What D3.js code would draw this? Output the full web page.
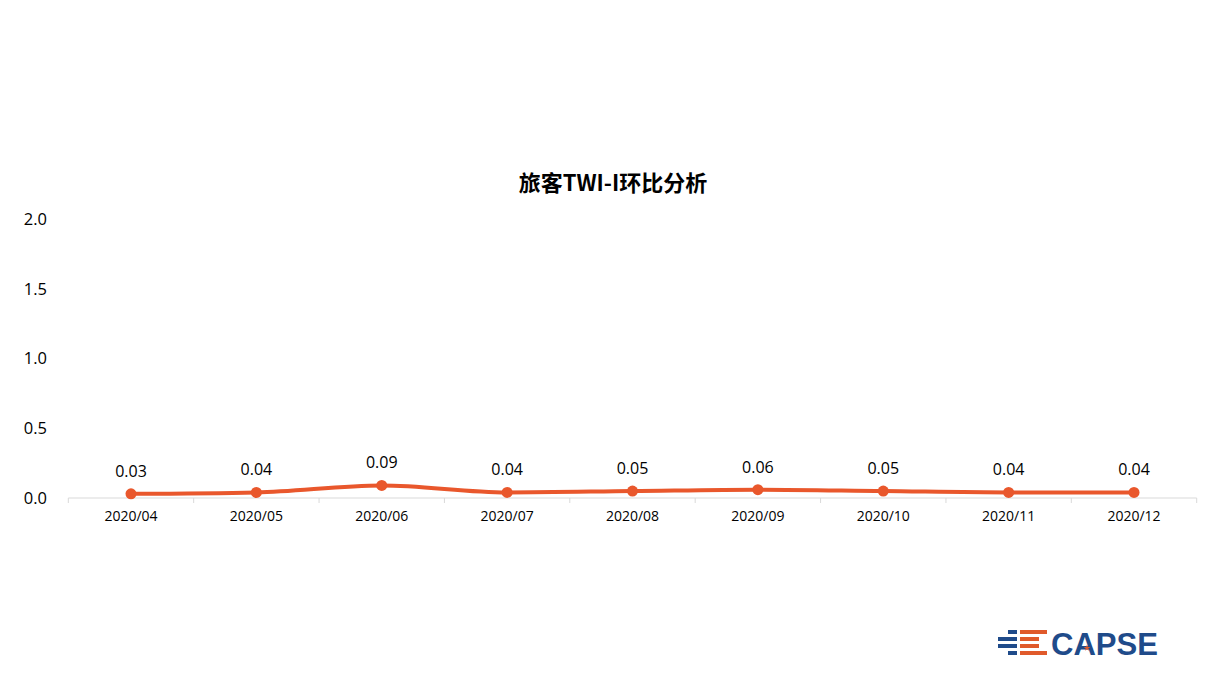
<!DOCTYPE html>
<html><head><meta charset="utf-8">
<script src="https://cdn.jsdelivr.net/npm/d3@7"></script>
<style>
html,body{margin:0;padding:0;background:#fff;}
svg{display:block;}
</style></head>
<body>
<svg id="chart" width="1211" height="677"></svg>
<script>
const categories = ["2020/04","2020/05","2020/06","2020/07","2020/08","2020/09","2020/10","2020/11","2020/12"];
const values = [0.03,0.04,0.09,0.04,0.05,0.06,0.05,0.04,0.04];
const yTicks = [0,0.5,1.0,1.5,2.0];
const title = "旅客TWI-I环比分析";

(function(){
const svg = d3.select("#chart");
const mLeft = 68.3, mRight = 1196.7, mTop = 219, mBottom = 498;
const color = "#E9572C";

const x = d3.scaleBand().domain(categories).range([mLeft, mRight]).paddingInner(0).paddingOuter(0);
const y = d3.scaleLinear().domain([0, 2]).range([mBottom, mTop]);

svg.append("text").attr("x", 613).attr("y", 191).attr("text-anchor", "middle")
  .attr("font-family", "'Noto Sans CJK SC', sans-serif").attr("font-weight", "bold")
  .attr("font-size", 22).attr("fill", "#000").text(title);

svg.append("g").selectAll("text").data(yTicks).join("text")
  .attr("x", 47).attr("y", d => y(d)).attr("dy", "0.35em").attr("text-anchor", "end")
  .attr("font-family", "'Open Sans', sans-serif").attr("font-size", 16.5).attr("fill", "#000")
  .text(d => d.toFixed(1));

const xAxis = svg.append("g").attr("transform", `translate(0,${mBottom})`);
xAxis.append("line").attr("x1", mLeft).attr("x2", mRight).attr("stroke", "#d9d9d9").attr("stroke-width", 1);
const bounds = categories.map(c => x(c)).concat([mRight]);
xAxis.selectAll("line.tk").data(bounds).join("line").attr("class", "tk")
  .attr("x1", d => d).attr("x2", d => d).attr("y1", 0).attr("y2", 5).attr("stroke", "#d9d9d9");
xAxis.selectAll("text").data(categories).join("text")
  .attr("x", d => x(d) + x.bandwidth() / 2).attr("y", 23).attr("text-anchor", "middle")
  .attr("font-family", "'Open Sans', sans-serif").attr("font-size", 14).attr("fill", "#000")
  .text(d => d);

const data = categories.map((c, i) => ({c, v: values[i]}));
const line = d3.line().x(d => x(d.c) + x.bandwidth() / 2).y(d => y(d.v)).curve(d3.curveMonotoneX);
svg.append("path").datum(data).attr("d", line).attr("fill", "none")
  .attr("stroke", color).attr("stroke-width", 4).attr("stroke-linecap", "round");
svg.append("g").selectAll("circle").data(data).join("circle")
  .attr("cx", d => x(d.c) + x.bandwidth() / 2).attr("cy", d => y(d.v)).attr("r", 5.5).attr("fill", color);
svg.append("g").selectAll("text").data(data).join("text")
  .attr("x", d => x(d.c) + x.bandwidth() / 2).attr("y", d => y(d.v) - 17).attr("text-anchor", "middle")
  .attr("font-family", "'Open Sans', sans-serif").attr("font-size", 16).attr("fill", "#000")
  .text(d => d.v.toFixed(2));

const logo = svg.append("g").attr("transform", "translate(998,630)");
const blue = "#1F4B8A", orange = "#E05A2B";
const stripes = [
  {x:10, w:9, y:0, c:blue},{x:22, w:27, y:0, c:orange},
  {x:0, w:19, y:7, c:blue},{x:22, w:19, y:7, c:orange},
  {x:0, w:19, y:14, c:blue},{x:22, w:19, y:14, c:orange},
  {x:10, w:9, y:21, c:blue},{x:22, w:27, y:21, c:orange}
];
logo.selectAll("rect").data(stripes).join("rect")
  .attr("x", d => d.x).attr("y", d => d.y).attr("width", d => d.w).attr("height", 4).attr("fill", d => d.c);
logo.append("text").attr("x", 53).attr("y", 24.5).attr("font-family", "'Liberation Sans', Arial, sans-serif")
  .attr("font-weight", "bold").attr("font-size", 32).attr("fill", blue).attr("textLength", 107)
  .attr("lengthAdjust", "spacingAndGlyphs").text("CAPSE");
logo.append("path").attr("d", d3.symbol(d3.symbolStar, 14)()).attr("transform", "translate(89,18)").attr("fill", orange);
})();
</script>
</body></html>
